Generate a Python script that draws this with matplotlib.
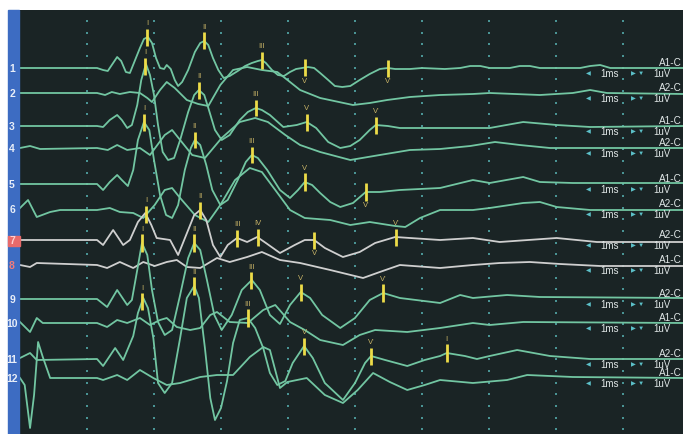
import numpy as np
import matplotlib
matplotlib.use("Agg")
import matplotlib.pyplot as plt
from matplotlib.patches import Rectangle

plt.rcParams["font.family"] = ["Liberation Sans", "DejaVu Sans"]

# ABR traces: (time in ms, amplitude in display units), one list per channel
TRACE_1 = [(0, 0), (1.15, 0), (1.24, -0.2), (1.31, -0.3), (1.39, 0.5), (1.45, 1.1), (1.51, 0.7), (1.58, -0.4),
           (1.64, -0.5), (1.70, 0.5), (1.79, 2.0), (1.85, 2.9), (1.91, 3.1), (1.97, 2.5), (2.03, 1.0), (2.09, 0.0),
           (2.15, -0.1), (2.19, 0.3), (2.25, -0.1), (2.31, -1.2), (2.36, -1.8), (2.42, -1.4), (2.51, -0.2),
           (2.61, 1.6), (2.69, 2.5), (2.75, 2.7), (2.81, 2.3), (2.88, 1.0), (2.96, -0.2), (3.04, -1.0),
           (3.13, -0.8), (3.25, -0.3), (3.36, 0.2), (3.46, 0.5), (3.55, 0.7), (3.61, 0.8), (3.67, 0.5),
           (3.76, -0.2), (3.85, -0.7), (3.94, -0.8), (4.03, -0.4), (4.12, -0.1), (4.21, 0.0), (4.30, 0.1),
           (4.39, 0.0), (4.48, -0.5), (4.60, -1.2), (4.70, -1.8), (4.81, -1.9), (4.93, -1.8), (5.07, -1.2),
           (5.22, -0.6), (5.37, -0.1), (5.49, 0.0), (5.60, -0.1), (5.82, -0.1), (6.0, 0), (6.34, -0.1),
           (6.57, 0), (6.72, 0.2), (6.87, 0.2), (7.01, 0), (7.31, 0), (7.46, 0.2), (7.61, 0.2), (7.76, 0),
           (8.36, 0), (8.51, 0.2), (8.66, 0.3), (8.81, 0), (9.9, 0)]
TRACE_2 = [(0, 0), (1.15, 0), (1.27, -0.2), (1.37, 0.1), (1.49, -0.1), (1.64, 0.1), (1.79, 0), (1.90, -0.5),
           (1.97, -0.9), (2.09, 0.3), (2.19, 1.1), (2.31, 0.5), (2.49, -0.7), (2.66, -1.1), (2.81, -1.3),
           (2.99, 0.8), (3.18, 2.3), (3.39, 2.6), (3.61, 2.3), (3.84, 2.1), (4.03, 1.1), (4.18, 0.3),
           (4.48, -0.5), (4.97, -1.2), (5.22, -1.0), (5.48, -0.7), (5.82, -0.4), (6.27, -0.2), (6.76, -0.1),
           (7.01, 0), (7.76, -0.2), (8.25, 0), (8.51, 0.3), (8.76, 0), (9.9, -0.1)]
TRACE_3 = [(0, 0), (1.15, 0), (1.24, -0.1), (1.34, 0.6), (1.45, 1.1), (1.52, 0.6), (1.60, -0.2), (1.67, 0.1),
           (1.75, 2.1), (1.81, 4.6), (1.88, 6.2), (1.94, 5.1), (2.00, 3.1), (2.06, 0.1), (2.13, -2.6),
           (2.21, -3.4), (2.30, -3.2), (2.39, -1.4), (2.51, 1.4), (2.60, 3.1), (2.67, 3.6), (2.75, 3.1),
           (2.82, 1.6), (2.91, -0.4), (3.01, -1.4), (3.13, -0.9), (3.28, 0.6), (3.40, 1.4), (3.52, 1.8),
           (3.61, 1.6), (3.73, 1.1), (3.93, -0.1), (4.13, 0.1), (4.28, 0.4), (4.42, -0.2), (4.60, -1.6),
           (4.78, -2.2), (4.93, -2.0), (5.07, -1.4), (5.22, -0.4), (5.31, 0.1), (5.49, 0), (5.67, -0.2),
           (6.27, -0.2), (7.01, -0.2), (7.51, 0.4), (8.01, 0.1), (8.51, -0.1), (9.9, 0)]
TRACE_4 = [(0, 0), (0.15, 0.2), (0.30, -0.1), (1.15, 0), (1.31, -0.2), (1.45, 0.3), (1.60, -0.2), (1.79, 0),
           (1.94, -0.7), (2.16, 1.3), (2.27, 1.8), (2.39, 0.8), (2.57, -0.7), (2.76, -1.0), (3.01, 1.0),
           (3.28, 2.6), (3.51, 3.0), (3.70, 2.6), (3.96, 1.3), (4.18, 0.3), (4.48, -0.4), (4.93, -1.2),
           (5.37, -0.7), (5.82, -0.2), (6.27, -0.1), (6.72, 0.2), (7.09, 0.6), (7.46, 0.3), (7.91, 0), (9.9, 0)]
TRACE_5 = [(0, 0), (1.15, 0), (1.24, -0.6), (1.34, 0.2), (1.45, 0.9), (1.52, 0.4), (1.61, -0.2), (1.69, 1.4),
           (1.76, 4.4), (1.85, 6.2), (1.93, 5.4), (2.00, 2.4), (2.09, -1.1), (2.18, -3.1), (2.27, -3.4),
           (2.36, -2.1), (2.46, 1.4), (2.55, 3.6), (2.61, 4.4), (2.69, 3.9), (2.78, 1.9), (2.87, -0.6),
           (2.99, -2.1), (3.10, -1.6), (3.25, 0.4), (3.37, 2.2), (3.46, 2.9), (3.55, 2.6), (3.69, 1.4),
           (3.88, -0.6), (4.03, -1.4), (4.15, -0.6), (4.25, 0.2), (4.36, -0.1), (4.48, -0.9), (4.63, -1.8),
           (4.78, -2.3), (4.97, -1.9), (5.16, -0.8), (5.37, -0.8), (5.67, -0.6), (6.27, -0.4), (6.76, 0.4),
           (7.01, 0.1), (7.51, 0.7), (7.76, 0.2), (8.25, 0.1), (9.9, 0.1)]
TRACE_6 = [(0, 0.1), (0.12, 0.9), (0.25, -0.8), (0.45, -0.3), (0.60, -0.1), (1.15, -0.1), (1.34, 0.1),
           (1.49, -0.3), (1.69, -0.4), (1.84, -0.9), (2.01, 0.4), (2.16, 1.9), (2.27, 2.1), (2.39, 1.1),
           (2.61, -0.6), (2.81, -1.3), (2.99, 0.4), (3.21, 2.9), (3.43, 4.1), (3.61, 3.7), (3.81, 1.9),
           (4.03, -0.1), (4.25, -0.9), (4.63, -1.1), (4.93, -1.6), (5.22, -1.3), (5.60, -1.7), (5.75, -1.8),
           (5.97, -0.9), (6.27, -0.1), (6.76, -0.1), (7.01, 0.1), (7.51, 0.6), (7.76, 0.7), (8.01, 0.2),
           (8.51, -0.1), (9.9, -0.1)]
TRACE_7 = [(0, 0), (1.15, 0), (1.24, -0.5), (1.39, 1.0), (1.54, -0.5), (1.64, 0), (1.76, 1.8), (1.87, 2.7),
           (1.96, 1.5), (2.04, 0.2), (2.24, 0), (2.36, -1.5), (2.48, 0.5), (2.60, 2.5), (2.69, 3.0), (2.78, 2.0),
           (2.88, -0.5), (2.99, -1.7), (3.10, -0.5), (3.24, 0.2), (3.39, -0.2), (3.54, 0.3), (3.67, -0.3),
           (3.88, -1.3), (4.10, -0.5), (4.25, 0), (4.39, 0), (4.55, -0.8), (4.82, -1.7), (5.07, -1.2),
           (5.30, -0.3), (5.60, 0.3), (5.82, 0.2), (6.27, 0), (6.76, 0.2), (7.16, -0.2), (8.01, 0.2),
           (8.61, -0.2), (9.06, -0.2), (9.9, -0.2)]
TRACE_8 = [(0, 0), (0.15, -0.2), (0.25, 0.2), (1.15, 0), (1.30, -0.3), (1.49, 0.3), (1.69, -0.3), (1.84, 0.3),
           (2.01, -0.1), (2.19, 0.3), (2.34, 0.5), (2.49, -0.2), (2.69, -0.3), (2.94, 0.7), (3.13, 0.3),
           (3.39, 0.8), (3.61, 1.3), (3.88, 0.5), (4.18, 0.2), (4.63, -0.5), (5.12, -1.3), (5.37, -0.7),
           (5.67, 0), (6.27, -0.3), (6.76, 0), (7.16, 0.2), (7.61, 0.3), (8.06, 0.1), (8.66, -0.1), (9.9, -0.1)]
TRACE_9 = [(0, 0), (1.15, 0), (1.30, -0.8), (1.45, 0.9), (1.60, -0.6), (1.67, -0.1), (1.75, 2.9), (1.82, 5.6),
           (1.90, 4.4), (1.97, 0.9), (2.06, -2.3), (2.16, -3.6), (2.27, -3.1), (2.39, 0.4), (2.51, 4.1),
           (2.60, 5.6), (2.69, 4.9), (2.79, 1.9), (2.90, -1.6), (3.01, -3.1), (3.16, -1.6), (3.31, 0.9),
           (3.46, 1.9), (3.58, 0.9), (3.73, -1.6), (3.88, -2.5), (4.03, -0.6), (4.19, 0.7), (4.33, 0.1),
           (4.51, -1.6), (4.78, -2.9), (5.00, -1.9), (5.22, -0.1), (5.42, 0.6), (5.67, 0.1), (6.27, -0.4),
           (6.57, 0.4), (6.76, 0.1), (7.27, 0.4), (7.76, 0.2), (9.9, 0.1)]
TRACE_10 = [(0, 0.1), (0.15, -0.9), (0.25, 0.5), (0.34, 0), (1.15, 0), (1.30, -0.4), (1.45, 0.3), (1.60, 0),
            (1.79, 0.5), (1.94, -0.2), (2.09, 0.3), (2.19, 0.5), (2.34, -0.4), (2.54, -0.7), (2.69, -0.5),
            (2.84, 0.8), (2.94, 1.1), (3.13, 0.1), (3.40, 0), (3.63, 1.3), (3.81, 1.8), (4.03, 0.1),
            (4.25, -0.7), (4.48, -1.7), (4.82, -2.2), (5.07, -1.2), (5.30, -0.7), (5.78, -0.9), (6.27, -0.5),
            (6.76, 0), (7.01, -0.2), (7.51, 0.1), (9.9, 0)]
TRACE_11 = [(0, 0.1), (0.15, 0.6), (0.25, -0.1), (1.15, 0), (1.24, -0.7), (1.42, 1.1), (1.54, -0.1),
            (1.69, 2.3), (1.76, 4.6), (1.84, 6.1), (1.91, 5.1), (1.99, 2.1), (2.06, -2.4), (2.16, -3.4),
            (2.27, -2.4), (2.39, 2.1), (2.49, 6.1), (2.60, 7.3), (2.67, 6.1), (2.76, 1.1), (2.84, -3.9),
            (2.91, -6.1), (3.00, -4.9), (3.09, -2.2), (3.18, 1.6), (3.28, 3.9), (3.40, 4.1), (3.51, 3.1),
            (3.63, 1.1), (3.73, -1.4), (3.84, -2.6), (3.96, -2.2), (4.07, -0.4), (4.24, 1.3), (4.37, 0.1),
            (4.55, -2.4), (4.82, -4.1), (5.00, -2.4), (5.15, -0.4), (5.24, 0.3), (5.45, -0.1), (5.78, -0.7),
            (6.04, -0.1), (6.27, 0.3), (6.37, 0.6), (6.64, 0.3), (6.82, 0), (7.01, 0.3), (7.42, 0.9),
            (7.91, 0.3), (8.51, 0), (9.9, 0)]
TRACE_12 = [(0, 0), (0.07, -0.7), (0.15, -5.0), (0.21, -1.7), (0.27, 3.6), (0.34, 2.1), (0.45, 0), (1.15, 0),
            (1.24, -0.2), (1.45, 0.3), (1.60, -0.2), (1.79, 0.8), (1.99, 0), (2.19, -0.7), (2.39, -0.5),
            (2.69, 0.1), (2.94, 0.3), (3.18, 0.3), (3.43, 2.1), (3.63, 3.1), (3.73, 2.8), (3.88, -1.0),
            (3.99, -0.4), (4.28, 0), (4.55, -1.7), (4.82, -2.5), (5.04, -1.2), (5.27, 0.5), (5.52, -0.4),
            (5.78, -1.2), (6.04, -0.7), (6.27, -0.2), (6.76, -0.5), (7.27, -0.2), (7.57, 0.3), (8.25, 0.1),
            (9.9, 0)]

TRACES = [TRACE_1, TRACE_2, TRACE_3, TRACE_4, TRACE_5, TRACE_6,
          TRACE_7, TRACE_8, TRACE_9, TRACE_10, TRACE_11, TRACE_12]
# channel names as far as they show at the right edge of the screen
CHANNELS = ["A1-C", "A2-C", "A1-C", "A2-C", "A1-C", "A2-C",
            "A2-C", "A1-C", "A2-C", "A1-C", "A2-C", "A1-C"]
TRACE_NAMES = [str(i) for i in range(1, 13)]

# peak marks: (trace number, latency ms, label, label side)
MARKERS = [
    (1, 1.90, "I", "up"), (1, 2.75, "II", "up"), (1, 3.61, "III", "up"), (1, 4.25, "V", "down"), (1, 5.49, "V'", "down"),
    (3, 1.87, "I", "up"), (3, 2.67, "II", "up"), (3, 3.52, "III", "up"), (3, 4.28, "V", "up"), (3, 5.31, "V'", "up"),
    (5, 1.85, "I", "up"), (5, 2.61, "II", "up"), (5, 3.46, "III", "up"), (5, 4.25, "V", "up"), (5, 5.16, "V'", "down"),
    (7, 1.88, "I", "up"), (7, 2.69, "II", "up"), (7, 3.24, "III", "up"), (7, 3.55, "IV", "up"), (7, 4.39, "V", "down"),
    (7, 5.61, "V'", "up"),
    (9, 1.82, "I", "up"), (9, 2.60, "II", "up"), (9, 3.45, "III", "up"), (9, 4.19, "V", "up"), (9, 5.42, "V'", "up"),
    (11, 1.82, "I", "up"), (11, 2.60, "II", "up"), (11, 3.40, "III", "up"), (11, 4.24, "V", "up"), (11, 5.24, "V'", "up"),
    (11, 6.37, "I", "up"),
]

# layout: vertical position of each trace (pixel row / 10)
BASELINE = [6.8, 9.3, 12.6, 14.8, 18.4, 20.9, 24.0, 26.5, 29.9, 32.3, 35.9, 37.8]

BG = "#1a2425"
GREEN = "#72c6a2"
WHITE = "#cfcfcf"
W, H = 683, 434

fig = plt.figure(figsize=(W / 100, H / 100), dpi=100)
fig.patch.set_facecolor("white")
ax = fig.add_axes([19 / W, 0, 664 / W, 424 / H])
ax.set_facecolor(BG)
ax.set_xlim(-1 / 67, 663 / 67)
ax.set_ylim(-43.4, -1.0)
ax.axis("off")
ax.add_patch(Rectangle((0, 0), 1, 1, transform=ax.transAxes, color=BG, zorder=0))

# dotted 1 ms grid
gx, gy = np.meshgrid(np.arange(1, 10), -np.arange(2.1, 43.4, 1.167))
ax.scatter(gx.ravel(), gy.ravel(), s=1.5, marker="s", color="#4a9494", lw=0, zorder=1)

for i, tr in enumerate(TRACES):
    t = np.array([p[0] for p in tr])
    a = np.array([p[1] for p in tr])
    col = WHITE if i in (6, 7) else GREEN
    ax.plot(t, a - BASELINE[i], color=col, lw=1.3, solid_joinstyle="round", zorder=3)
    y0 = -BASELINE[i]
    ax.text(9.53, y0 - 0.02, CHANNELS[i], color="#dfe6e6", fontsize=7.2, va="bottom", ha="left", zorder=4)
    yr = y0 - 0.58
    ax.text(8.48, yr, "◀", color="#5cc0c8", fontsize=4.5, va="center", ha="center", zorder=4)
    ax.text(8.66, yr, "1ms", color="#dfe6e6", fontsize=7, va="center", ha="left", zorder=4)
    ax.text(9.15, yr, "▶", color="#5cc0c8", fontsize=4.5, va="center", ha="center", zorder=4)
    ax.text(9.26, yr, "▼", color="#5cc0c8", fontsize=4.5, va="center", ha="center", zorder=4)
    ax.text(9.45, yr, "1uV", color="#dfe6e6", fontsize=7, va="center", ha="left", zorder=4)

for n, lat, lab, side in MARKERS:
    tr = TRACES[n - 1]
    t = np.array([p[0] for p in tr])
    a = np.array([p[1] for p in tr])
    yc = np.interp(lat, t, a) - BASELINE[n - 1]
    ax.plot([lat, lat], [yc - 0.85, yc + 0.85], color="#ecdc48", lw=2.0, zorder=5, solid_capstyle="butt")
    if side == "up":
        ax.text(lat, yc + 1.0, lab, color="#c9b467", fontsize=5.5, ha="center", va="bottom", zorder=5)
    else:
        ax.text(lat, yc - 1.0, lab, color="#c9b467", fontsize=5.5, ha="center", va="top", zorder=5)

# left blue strip with trace numbers
fig.add_artist(Rectangle((8 / W, 0), 11 / W, 424 / H, transform=fig.transFigure, color="#3d6cc2", zorder=2))
fig.add_artist(Rectangle((8 / W, 1 - 246 / H), 12 / W, 10 / H, transform=fig.transFigure, color="#e86a6a", zorder=3))
for i, name in enumerate(TRACE_NAMES):
    col = "#f07c7c" if i == 7 else ("#ffd0d0" if i == 6 else "#e8eef8")
    fig.text(12 / W, 1 - (BASELINE[i] * 10 + 1) / H, name, color=col, fontsize=7.5, fontweight="bold",
             ha="center", va="center", zorder=4)

fig.savefig("out.png", dpi=100, facecolor=fig.get_facecolor())
